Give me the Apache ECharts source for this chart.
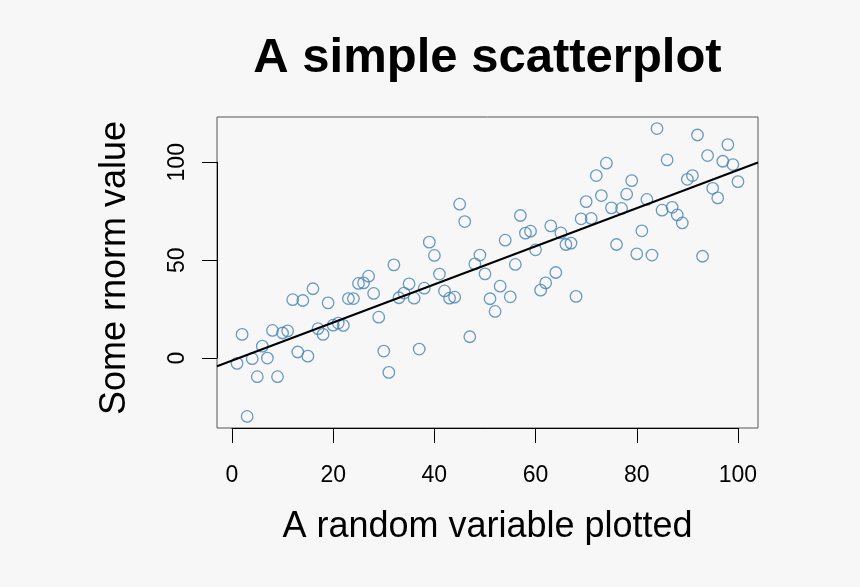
<!DOCTYPE html>
<html>
<head>
<meta charset="utf-8">
<script src="https://cdn.jsdelivr.net/npm/echarts@6/dist/echarts.min.js"></script>
<style>
html,body{margin:0;padding:0;background:#f7f7f7;}
#chart{width:860px;height:587px;}
</style>
</head>
<body>
<div id="chart"></div>
<script>
// ---- data ----
var xValues = [1,2,3,4,5,6,7,8,9,10,11,12,13,14,15,16,17,18,19,20,
  21,22,23,24,25,26,27,28,29,30,31,32,33,34,35,36,37,38,39,40,
  41,42,43,44,45,46,47,48,49,50,51,52,53,54,55,56,57,58,59,60,
  61,62,63,64,65,66,67,68,69,70,71,72,73,74,75,76,77,78,79,80,
  81,82,83,84,85,86,87,88,89,90,91,92,93,94,95,96,97,98,99,100];
var yValues = [-2.7,12.1,-29.8,-0.3,-9.5,6.1,0.0,14.1,-9.5,12.8,
  13.9,29.8,3.1,29.4,1.0,35.4,15.0,12.1,28.2,16.8,
  17.9,16.7,30.4,30.4,38.1,38.4,41.8,33.0,20.9,3.6,
  -7.3,47.6,30.8,33.2,37.9,30.6,4.6,35.7,59.2,52.4,
  42.9,34.3,30.6,31.1,78.6,69.7,10.9,48.1,52.6,43.0,
  30.3,23.8,36.7,60.2,31.3,47.8,72.8,63.8,64.8,55.3,
  34.7,38.4,67.5,43.7,63.9,58.0,58.7,31.5,71.1,79.9,
  71.3,93.2,83.0,99.5,76.7,58.0,76.4,83.7,90.6,53.2,
  65.0,81.0,52.6,117.2,75.5,101.2,77.0,73.1,69.0,91.3,
  93.2,113.9,52.0,103.4,86.7,81.8,100.5,109.0,98.8,90.1];
var fitIntercept = -1.3;
var fitSlope = 0.973;
var xRange = [-2.96, 103.96];
var yRange = [-35.7, 123.1];
var xTickRange = [0, 100];
var xTickStep = 20;
var yTickRange = [0, 100];
var yTickStep = 50;
var titleText = 'A simple scatterplot';
var xLabel = 'A random variable plotted';
var yLabel = 'Some rnorm value';

// ---- layout ----
var FONT = '"Liberation Sans", Arial, Helvetica, sans-serif';
var plot = {left: 217, top: 117, width: 541, height: 311};
var pxX = plot.width / (xRange[1] - xRange[0]);
var pxY = plot.height / (yRange[1] - yRange[0]);

var points = xValues.map(function (x, i) { return [x, yValues[i]]; });
var fitLine = xRange.map(function (x) { return [x, fitIntercept + fitSlope * x]; });

var chart = echarts.init(document.getElementById('chart'), null, {renderer: 'canvas'});
chart.setOption({
  backgroundColor: '#f7f7f7',
  animation: false,
  grid: [
    {left: plot.left, top: plot.top, width: plot.width, height: plot.height,
     show: true, borderColor: '#555', borderWidth: 1, backgroundColor: 'transparent'},
    {left: plot.left + (xTickRange[0] - xRange[0]) * pxX, top: plot.top,
     width: (xTickRange[1] - xTickRange[0]) * pxX, height: plot.height},
    {left: plot.left, width: plot.width,
     top: plot.top + (yRange[1] - yTickRange[1]) * pxY,
     height: (yTickRange[1] - yTickRange[0]) * pxY}
  ],
  xAxis: [
    {gridIndex: 0, type: 'value', min: xRange[0], max: xRange[1], show: false},
    {gridIndex: 1, type: 'value', min: xTickRange[0], max: xTickRange[1], interval: xTickStep,
     position: 'bottom',
     axisLine: {show: true, onZero: false, lineStyle: {color: '#000', width: 1}},
     axisTick: {show: true, inside: false, length: 15, lineStyle: {color: '#000', width: 1}},
     axisLabel: {show: true, margin: 36, fontSize: 23, color: '#000', fontFamily: FONT},
     splitLine: {show: false}},
    {gridIndex: 2, type: 'value', min: xRange[0], max: xRange[1], show: false}
  ],
  yAxis: [
    {gridIndex: 0, type: 'value', min: yRange[0], max: yRange[1], show: false},
    {gridIndex: 1, type: 'value', min: yRange[0], max: yRange[1], show: false},
    {gridIndex: 2, type: 'value', min: yTickRange[0], max: yTickRange[1], interval: yTickStep,
     position: 'left',
     axisLine: {show: true, onZero: false, lineStyle: {color: '#000', width: 1}},
     axisTick: {show: true, inside: false, length: 15, lineStyle: {color: '#000', width: 1}},
     axisLabel: {show: true, rotate: 90, margin: 28, fontSize: 23, color: '#000', fontFamily: FONT},
     splitLine: {show: false}}
  ],
  graphic: [
    {type: 'text', x: plot.left + plot.width / 2, y: 58,
     style: {text: titleText, font: 'bold 49px ' + FONT, fill: '#000', textAlign: 'center', textVerticalAlign: 'middle'}},
    {type: 'text', x: plot.left + plot.width / 2, y: 527,
     style: {text: xLabel, font: '36px ' + FONT, fill: '#000', textAlign: 'center', textVerticalAlign: 'middle'}},
    {type: 'text', x: 115.5, y: 268, rotation: Math.PI / 2,
     style: {text: yLabel, font: '36px ' + FONT, fill: '#000', textAlign: 'center', textVerticalAlign: 'middle'}}
  ],
  series: [
    {type: 'scatter', xAxisIndex: 0, yAxisIndex: 0, data: points,
     symbol: 'circle', symbolSize: 11.5,
     itemStyle: {color: 'transparent', borderColor: '#4682b4', borderWidth: 1.3},
     emphasis: {disabled: true}},
    {type: 'line', xAxisIndex: 0, yAxisIndex: 0, data: fitLine,
     showSymbol: false, symbol: 'none', clip: true,
     lineStyle: {color: '#000', width: 2}}
  ]
});
</script>
</body>
</html>
